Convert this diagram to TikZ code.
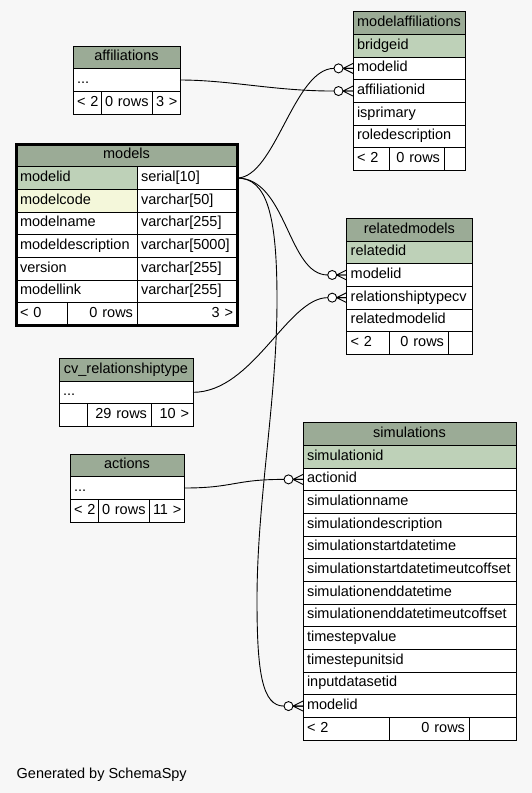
\documentclass[tikz,border=0pt]{standalone}
\usepackage{fontspec}
\setmainfont{Liberation Sans}
\usetikzlibrary{positioning}
\definecolor{hdrgreen}{HTML}{9BAB96}
\definecolor{pkgreen}{HTML}{BED1B8}
\definecolor{idxyellow}{HTML}{F4F7DA}
\definecolor{bggray}{HTML}{F7F7F7}
\newcommand{\sz}{\fontsize{14.5}{17}\selectfont\hyphenpenalty=10000 }
% circle + crow's foot at the many-side of a relation
\newcommand{\crowfoot}[1]{%
	\draw[rel] ([xshift=-10pt]#1) -- ([yshift=5pt]#1) ([xshift=-10pt]#1) -- ([yshift=-5pt]#1) ([xshift=-10pt]#1) -- (#1);
	\draw[rel, fill=white] ([xshift=-14.5pt]#1) circle (4.5pt);}

\begin{document}
\begin{tikzpicture}[x=1pt,y=-1pt]
	\tikzstyle{cell}=[draw=black, line width=0.8pt, fill=white, outer sep=0pt, inner xsep=4pt, inner ysep=0pt, minimum height=22.67pt, text height=10.5pt, text depth=3.5pt, anchor=north west, font=\sz, align=left]
	\tikzstyle{head}=[cell, fill=hdrgreen, align=center]
	\tikzstyle{pk}=[cell, fill=pkgreen]
	\tikzstyle{idx}=[cell, fill=idxyellow]
	\tikzstyle{rgt}=[cell, align=right]
	\tikzstyle{rel}=[line width=0.9pt]
	\tikzstyle{wma}=[text width=104pt]
	\tikzstyle{waf}=[text width=99pt]
	\tikzstyle{wrm}=[text width=117.3pt]
	\tikzstyle{wcv}=[text width=126pt]
	\tikzstyle{wac}=[text width=106pt]
	\tikzstyle{wsi}=[text width=205pt]
	\fill[bggray] (0,0) rectangle (532,793);
	\useasboundingbox (0,0) rectangle (532,793);
		% modelaffiliations
		\node[head, wma] (ma_head) at (353,11.7) {modelaffiliations};
		\node[pk, wma, below=0pt of ma_head] (ma_bridgeid) {bridgeid};
		\node[cell, wma, below=0pt of ma_bridgeid] (ma_modelid) {modelid};
		\node[cell, wma, below=0pt of ma_modelid] (ma_affiliationid) {affiliationid};
		\node[cell, wma, below=0pt of ma_affiliationid] (ma_isprimary) {isprimary};
		\node[cell, wma, below=0pt of ma_isprimary] (ma_roledescription) {roledescription};
		\node[cell, text width=28pt, below=0pt of ma_roledescription.south west, anchor=north west] (ma_f1) {<~2};
		\node[rgt, text width=47pt, right=0pt of ma_f1] (ma_f2) {0~rows};
		\node[rgt, text width=13pt, right=0pt of ma_f2] (ma_f3) {};
		% affiliations
		\node[head, waf] (af_head) at (73,46) {affiliations};
		\node[cell, waf, below=0pt of af_head] (af_dots) {...};
		\node[cell, text width=20pt, below=0pt of af_dots.south west, anchor=north west] (af_f1) {<~2};
		\node[rgt, text width=43pt, right=0pt of af_f1] (af_f2) {0~rows};
		\node[rgt, text width=20pt, right=0pt of af_f2] (af_f3) {3~>};
		% models
		\node[head, text width=213pt] (mo_head) at (16,144) {models};
		\node[pk, text width=113pt, below=0pt of mo_head.south west, anchor=north west] (mo_modelid) {modelid};
		\node[cell, text width=92pt, right=0pt of mo_modelid] (mo_modelid_t) {serial[10]};
		\node[idx, text width=113pt, below=0pt of mo_modelid] (mo_modelcode) {modelcode};
		\node[cell, text width=92pt, right=0pt of mo_modelcode] (mo_modelcode_t) {varchar[50]};
		\node[cell, text width=113pt, below=0pt of mo_modelcode] (mo_modelname) {modelname};
		\node[cell, text width=92pt, right=0pt of mo_modelname] (mo_modelname_t) {varchar[255]};
		\node[cell, text width=113pt, below=0pt of mo_modelname] (mo_modeldescription) {modeldescription};
		\node[cell, text width=92pt, right=0pt of mo_modeldescription] (mo_modeldescription_t) {varchar[5000]};
		\node[cell, text width=113pt, below=0pt of mo_modeldescription] (mo_version) {version};
		\node[cell, text width=92pt, right=0pt of mo_version] (mo_version_t) {varchar[255]};
		\node[cell, text width=113pt, below=0pt of mo_version] (mo_modellink) {modellink};
		\node[cell, text width=92pt, right=0pt of mo_modellink] (mo_modellink_t) {varchar[255]};
		\node[cell, text width=43pt, below=0pt of mo_modellink.south west, anchor=north west] (mo_f1) {<~0};
		\node[rgt, text width=62pt, right=0pt of mo_f1] (mo_f2) {0~rows};
		\node[rgt, text width=92pt, right=0pt of mo_f2] (mo_f3) {3~>};
		\draw[line width=3pt] (mo_head.north west) rectangle (mo_f3.south east);
		% relatedmodels
		\node[head, wrm] (rm_head) at (346.7,218.3) {relatedmodels};
		\node[pk, wrm, below=0pt of rm_head] (rm_relatedid) {relatedid};
		\node[cell, wrm, below=0pt of rm_relatedid] (rm_modelid) {modelid};
		\node[cell, wrm, below=0pt of rm_modelid] (rm_relationshiptypecv) {relationshiptypecv};
		\node[cell, wrm, below=0pt of rm_relationshiptypecv] (rm_relatedmodelid) {relatedmodelid};
		\node[cell, text width=34.3pt, below=0pt of rm_relatedmodelid.south west, anchor=north west] (rm_f1) {<~2};
		\node[rgt, text width=51pt, right=0pt of rm_f1] (rm_f2) {0~rows};
		\node[rgt, text width=16pt, right=0pt of rm_f2] (rm_f3) {};
		% cv_relationshiptype
		\node[head, wcv] (cv_head) at (59,358.3) {cv\_relationshiptype};
		\node[cell, wcv, below=0pt of cv_head] (cv_dots) {...};
		\node[cell, text width=20pt, below=0pt of cv_dots.south west, anchor=north west] (cv_f1) {};
		\node[rgt, text width=56pt, right=0pt of cv_f1] (cv_f2) {29~rows};
		\node[rgt, text width=34pt, right=0pt of cv_f2] (cv_f3) {10~>};
		% actions
		\node[head, wac] (ac_head) at (70,454) {actions};
		\node[cell, wac, below=0pt of ac_head] (ac_dots) {...};
		\node[cell, text width=20pt, below=0pt of ac_dots.south west, anchor=north west] (ac_f1) {<~2};
		\node[rgt, text width=43pt, right=0pt of ac_f1] (ac_f2) {0~rows};
		\node[rgt, text width=27pt, right=0pt of ac_f2] (ac_f3) {11~>};
		% simulations
		\node[head, wsi] (si_head) at (303,422.7) {simulations};
		\node[pk, wsi, below=0pt of si_head] (si_simulationid) {simulationid};
		\node[cell, wsi, below=0pt of si_simulationid] (si_actionid) {actionid};
		\node[cell, wsi, below=0pt of si_actionid] (si_simulationname) {simulationname};
		\node[cell, wsi, below=0pt of si_simulationname] (si_simulationdescription) {simulationdescription};
		\node[cell, wsi, below=0pt of si_simulationdescription] (si_startdatetime) {simulationstartdatetime};
		\node[cell, wsi, below=0pt of si_startdatetime] (si_startoffset) {simulationstartdatetimeutcoffset};
		\node[cell, wsi, below=0pt of si_startoffset] (si_enddatetime) {simulationenddatetime};
		\node[cell, wsi, below=0pt of si_enddatetime] (si_endoffset) {simulationenddatetimeutcoffset};
		\node[cell, wsi, below=0pt of si_endoffset] (si_timestepvalue) {timestepvalue};
		\node[cell, wsi, below=0pt of si_timestepvalue] (si_timestepunitsid) {timestepunitsid};
		\node[cell, wsi, below=0pt of si_timestepunitsid] (si_inputdatasetid) {inputdatasetid};
		\node[cell, wsi, below=0pt of si_inputdatasetid] (si_modelid) {modelid};
		\node[cell, text width=78pt, below=0pt of si_modelid.south west, anchor=north west] (si_f1) {<~2};
		\node[rgt, text width=72pt, right=0pt of si_f1] (si_f2) {0~rows};
		\node[rgt, text width=39pt, right=0pt of si_f2] (si_f3) {};
		% relations
			\draw[rel] (mo_modelid_t.east) .. controls +(38,0) and +(-40,0) .. ([xshift=-19pt]ma_modelid.west) -- (ma_modelid.west);
			\draw[rel] (af_dots.east) .. controls +(50,0) and +(-60,0) .. ([xshift=-19pt]ma_affiliationid.west) -- (ma_affiliationid.west);
			\draw[rel] (mo_modelid_t.east) .. controls +(50,0) and +(-40,0) .. ([xshift=-19pt]rm_modelid.west) -- (rm_modelid.west);
			\draw[rel] (cv_dots.east) .. controls +(60,0) and +(-40,0) .. ([xshift=-19pt]rm_relationshiptypecv.west) -- (rm_relationshiptypecv.west);
			\draw[rel] (ac_dots.east) .. controls +(50,0) and +(-50,0) .. ([xshift=-19pt]si_actionid.west) -- (si_actionid.west);
			\draw[rel] (mo_modelid_t.east) .. controls +(30,0) and (277,215) .. (277,300) .. controls (277,400) and (257,500) .. (257,600) .. controls (257,672) and +(-22,0) .. ([xshift=-19pt]si_modelid.west) -- (si_modelid.west);
			\crowfoot{ma_modelid.west}
			\crowfoot{ma_affiliationid.west}
			\crowfoot{rm_modelid.west}
			\crowfoot{rm_relationshiptypecv.west}
			\crowfoot{si_actionid.west}
			\crowfoot{si_modelid.west}
		\node[font=\sz, anchor=west, inner sep=0pt] (credit) at (16.5,775) {Generated by SchemaSpy};
\end{tikzpicture}
\end{document}
